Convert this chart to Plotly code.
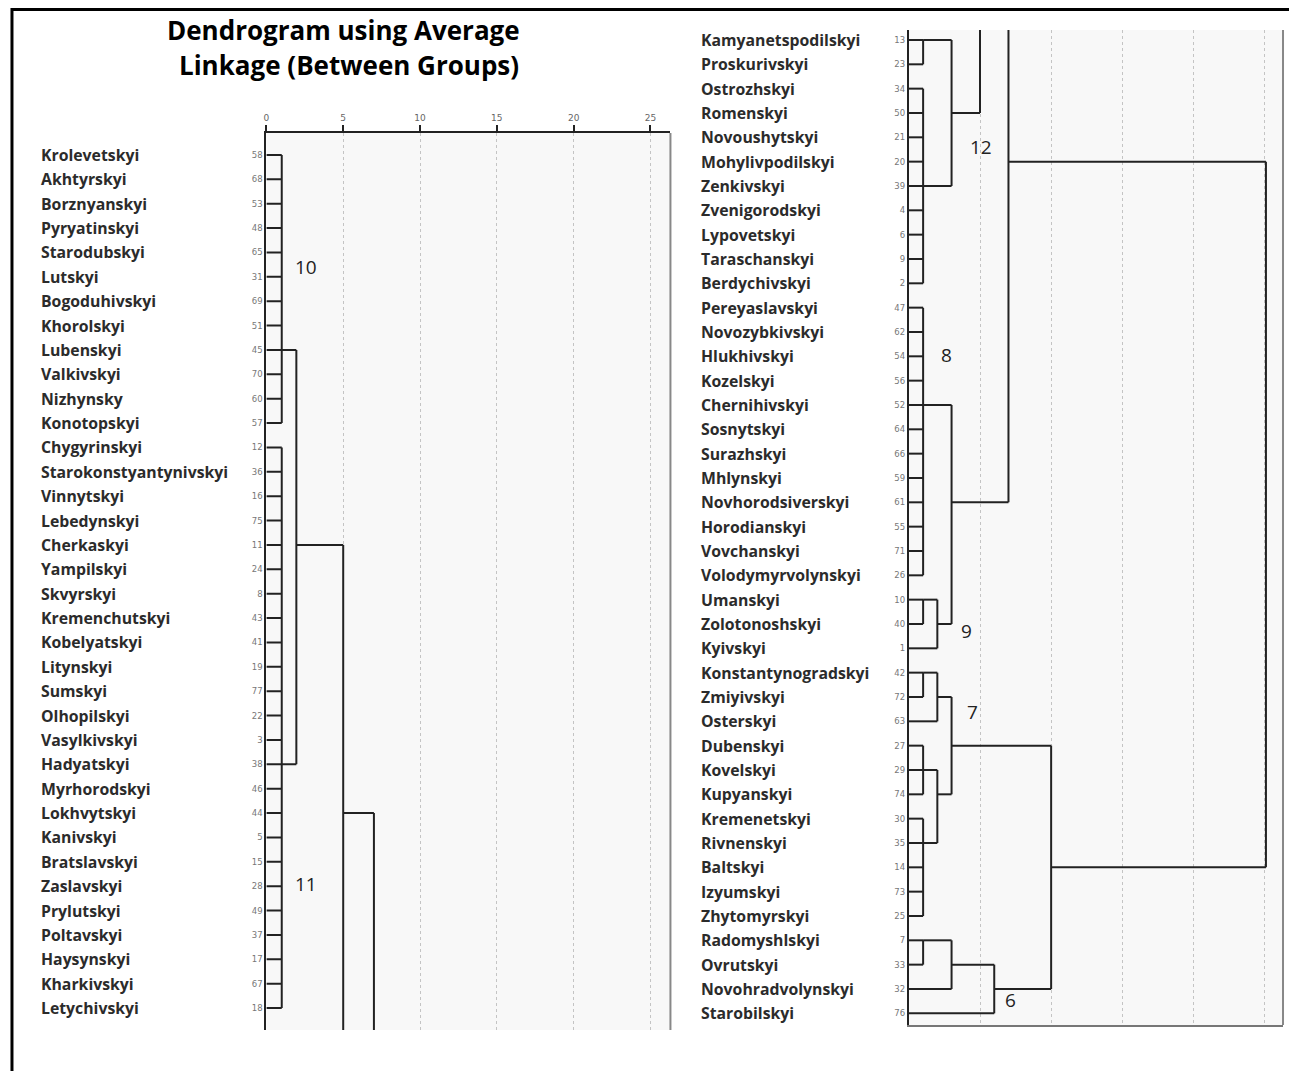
import plotly.graph_objects as go

# ---------------- data ----------------
left_names = [
    "Krolevetskyi", "Akhtyrskyi", "Borznyanskyi", "Pyryatinskyi", "Starodubskyi",
    "Lutskyi", "Bogoduhivskyi", "Khorolskyi", "Lubenskyi", "Valkivskyi", "Nizhynsky",
    "Konotopskyi", "Chygyrinskyi", "Starokonstyantynivskyi", "Vinnytskyi",
    "Lebedynskyi", "Cherkaskyi", "Yampilskyi", "Skvyrskyi", "Kremenchutskyi",
    "Kobelyatskyi", "Litynskyi", "Sumskyi", "Olhopilskyi", "Vasylkivskyi",
    "Hadyatskyi", "Myrhorodskyi", "Lokhvytskyi", "Kanivskyi", "Bratslavskyi",
    "Zaslavskyi", "Prylutskyi", "Poltavskyi", "Haysynskyi", "Kharkivskyi",
    "Letychivskyi",
]
left_ids = [58, 68, 53, 48, 65, 31, 69, 51, 45, 70, 60, 57, 12, 36, 16, 75, 11, 24,
            8, 43, 41, 19, 77, 22, 3, 38, 46, 44, 5, 15, 28, 49, 37, 17, 67, 18]

right_names = [
    "Kamyanetspodilskyi", "Proskurivskyi", "Ostrozhskyi", "Romenskyi",
    "Novoushytskyi", "Mohylivpodilskyi", "Zenkivskyi", "Zvenigorodskyi",
    "Lypovetskyi", "Taraschanskyi", "Berdychivskyi", "Pereyaslavskyi",
    "Novozybkivskyi", "Hlukhivskyi", "Kozelskyi", "Chernihivskyi", "Sosnytskyi",
    "Surazhskyi", "Mhlynskyi", "Novhorodsiverskyi", "Horodianskyi", "Vovchanskyi",
    "Volodymyrvolynskyi", "Umanskyi", "Zolotonoshskyi", "Kyivskyi",
    "Konstantynogradskyi", "Zmiyivskyi", "Osterskyi", "Dubenskyi", "Kovelskyi",
    "Kupyanskyi", "Kremenetskyi", "Rivnenskyi", "Baltskyi", "Izyumskyi",
    "Zhytomyrskyi", "Radomyshlskyi", "Ovrutskyi", "Novohradvolynskyi",
    "Starobilskyi",
]
right_ids = [13, 23, 34, 50, 21, 20, 39, 4, 6, 9, 2, 47, 62, 54, 56, 52, 64, 66, 59,
             61, 55, 71, 26, 10, 40, 1, 42, 72, 63, 27, 29, 74, 30, 35, 14, 73, 25,
             7, 33, 32, 76]

# Merge tables: name -> (rescaled distance, members, row of the outgoing link).
# Integer members are leaf rows, strings are earlier clusters,
# ("cont", row) marks a branch that continues beyond the visible part.
left_tree = {
    "A": (1.0, list(range(0, 12)), 8),
    "C": (1.0, list(range(12, 36)), 25),
    "B": (1.95, ["A", "C"], 16),
    "D": (5.0, ["B", ("cont", 38)], 27),
    "E": (7.0, ["D", ("cont", 48)], 37),
}
right_tree = {
    "R1": (1.0, [0, 1], 0),
    "R2": (1.0, list(range(2, 11)), 6),
    "R3": (3.0, ["R1", "R2"], 3),
    "R4": (5.0, ["R3", ("cont", -6)], -1.5),
    "R5": (1.0, list(range(11, 23)), 15),
    "R6": (1.0, [23, 24], 23),
    "R7": (2.0, ["R6", 25], 24),
    "R8": (3.0, ["R5", "R7"], 19),
    "R9": (7.0, [("cont", -9), "R8"], 5),
    "R10": (1.0, [26, 27], 26),
    "R11": (2.0, ["R10", 28], 27),
    "R12": (1.0, [29, 30, 31], 30),
    "R13": (1.0, list(range(32, 37)), 33),
    "R14": (2.0, ["R12", "R13"], 31),
    "R15": (3.0, ["R11", "R14"], 29),
    "R16": (1.0, [37, 38], 37),
    "R17": (3.0, ["R16", 39], 38),
    "R18": (6.0, ["R17", 40], 39),
    "R19": (10.0, ["R15", "R18"], 34),
    "R20": (25.1, ["R9", "R19"], 19.5),
}

# cluster numbers written beside the tree: (text, distance, row)
left_marks = [("10", 2.55, 4.6), ("11", 2.55, 29.9)]
right_marks = [("12", 5.05, 4.4), ("8", 2.66, 12.95), ("9", 4.07, 24.3),
               ("7", 4.49, 27.6), ("6", 7.15, 39.45)]

axis_ticks = [0, 5, 10, 15, 20, 25]

# ---------------- drawing ----------------
W, H = 1289, 1071
LINE = "#222222"


def tree_segments(tree):
    info = {k: (v[0], v[2]) for k, v in tree.items()}
    xs, ys = [], []
    for name, (h, kids, out) in tree.items():
        rows = []
        for k in kids:
            if isinstance(k, str):
                kh, krow = info[k]
            elif isinstance(k, tuple):
                kh, krow = None, k[1]
            else:
                kh, krow = 0.0, k
            rows.append(krow)
            if kh is not None:
                xs += [kh, h, None]
                ys += [krow, krow, None]
        xs += [h, h, None]
        ys += [min(rows), max(rows), None]
    return xs, ys


fig = go.Figure()
lx, ly = tree_segments(left_tree)
rx, ry = tree_segments(right_tree)
fig.add_trace(go.Scatter(x=lx, y=ly, mode="lines", xaxis="x", yaxis="y",
                         line=dict(color=LINE, width=2), hoverinfo="skip",
                         showlegend=False))
fig.add_trace(go.Scatter(x=rx, y=ry, mode="lines", xaxis="x2", yaxis="y2",
                         line=dict(color=LINE, width=2), hoverinfo="skip",
                         showlegend=False))

grid = dict(showgrid=True, gridcolor="#c4c4c4", griddash="dot", gridwidth=1,
            zeroline=False)
fig.update_layout(
    width=W, height=H, margin=dict(l=0, r=0, t=0, b=0),
    paper_bgcolor="white", plot_bgcolor="#f8f8f8",
    showlegend=False,
    xaxis=dict(domain=[264 / W, 669 / W], range=[0, 26.3], side="top",
               anchor="y", showline=True, linecolor=LINE, linewidth=2,
               ticks="outside", ticklen=6, tickwidth=2, tickcolor=LINE,
               tickvals=axis_ticks, ticktext=[str(t) for t in axis_ticks],
               tickfont=dict(family="DejaVu Sans", size=9, color="#666"),
               **grid),
    yaxis=dict(domain=[1 - 1030 / H, 1 - 133 / H], range=[35.9, -0.9],
               anchor="x", showline=True, linecolor=LINE, linewidth=2,
               ticks="", tickvals=list(range(len(left_ids))),
               ticktext=[str(v) for v in left_ids],
               tickfont=dict(family="DejaVu Sans", size=8.5, color="#777"),
               showgrid=False, zeroline=False),
    xaxis2=dict(domain=[908 / W, 1283 / W], range=[0, 26.3], side="bottom",
                anchor="y2", showline=True, linecolor="#777", linewidth=2,
                showticklabels=False, ticks="", tickvals=axis_ticks, **grid),
    yaxis2=dict(domain=[1 - 1025 / H, 1 - 30 / H], range=[40.48, -0.41],
                anchor="x2", showline=True, linecolor=LINE, linewidth=2,
                ticks="", tickvals=list(range(len(right_ids))),
                ticktext=[str(v) for v in right_ids],
                tickfont=dict(family="DejaVu Sans", size=8.5, color="#777"),
                showgrid=False, zeroline=False),
)

shapes = [
    # right edges of both plot frames
    dict(type="line", xref="x domain", yref="y domain", x0=1, x1=1, y0=0, y1=1,
         line=dict(color="#888", width=2)),
    dict(type="line", xref="x2 domain", yref="y2 domain", x0=1, x1=1, y0=0, y1=1,
         line=dict(color="#888", width=2)),
    # page border
    dict(type="line", xref="paper", yref="paper", x0=8 / W, x1=1,
         y0=1 - 9.5 / H, y1=1 - 9.5 / H, line=dict(color="black", width=3)),
    dict(type="line", xref="paper", yref="paper", x0=9 / W, x1=9 / W,
         y0=0, y1=1 - 8 / H, line=dict(color="black", width=3)),
]

ann = []
name_font = dict(family="Open Sans", size=15.8, color="#2b2b2b")
for i, n in enumerate(left_names):
    ann.append(dict(text="<b>%s</b>" % n, xref="paper", yref="y", x=36 / W, y=i,
                    xanchor="left", yanchor="middle", showarrow=False,
                    font=name_font))
for i, n in enumerate(right_names):
    ann.append(dict(text="<b>%s</b>" % n, xref="paper", yref="y2", x=698 / W, y=i,
                    xanchor="left", yanchor="middle", showarrow=False,
                    font=name_font))
mark_font = dict(family="Open Sans", size=19, color="#222")
for t, x, y in left_marks:
    ann.append(dict(text=t, xref="x", yref="y", x=x, y=y, showarrow=False,
                    font=mark_font))
for t, x, y in right_marks:
    ann.append(dict(text=t, xref="x2", yref="y2", x=x, y=y, showarrow=False,
                    font=mark_font))

title_font = dict(family="Open Sans", size=26, color="black")
ann.append(dict(text="<b>Dendrogram using Average</b>", xref="paper", yref="paper",
                x=341 / W, y=1 - 30 / H, xanchor="center", yanchor="middle",
                showarrow=False, font=title_font))
ann.append(dict(text="<b>Linkage (Between Groups)</b>", xref="paper", yref="paper",
                x=347 / W, y=1 - 65 / H, xanchor="center", yanchor="middle",
                showarrow=False, font=title_font))

fig.update_layout(shapes=shapes, annotations=ann)
fig.write_html("out.html")
